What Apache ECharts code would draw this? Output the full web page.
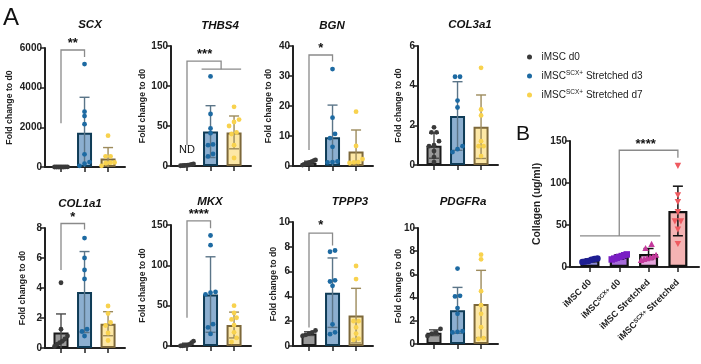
<!DOCTYPE html>
<html><head><meta charset="utf-8">
<script src="https://cdn.jsdelivr.net/npm/echarts@6/dist/echarts.min.js"></script>
<style>html,body{margin:0;padding:0;background:#fff}#c{width:701px;height:364px}</style>
</head><body><div id="c"></div>
<script>
// ---------- DATA ----------
const genes = ['SCX','THBS4','BGN','COL3a1','COL1a1','MKX','TPPP3','PDGFRa'];
const groups = ['iMSC d0','iMSC SCX+ Stretched d3','iMSC SCX+ Stretched d7'];
const yMax  = [6000,150,40,6,8,150,10,10];
const yStep = [2000,50,10,2,2,50,2,2];
const meanD0 = [1,1,1,0.97,1.04,1,1,0.97];
const meanD3 = [1725,43,9.6,2.47,3.73,63.8,4.3,2.9];
const meanD7 = [423,42,4.8,1.93,1.62,26,2.45,3.45];
const sdD0 = [1,1,0.6,0.63,1.23,2.5,0.15,0.25];
const sdD3 = [1790,32.4,10.7,1.73,2.7,46.8,2.8,1.98];
const sdD7 = [557,20.5,7.2,1.6,0.8,16,2.2,2.9];
const ptsD0 = [
  [1.6,1.3,1.1,1.0,0.9,0.7,0.5,0.4],
  [2.5,2.0,1.5,1.0,0.8,0.6,0.4,0.3],
  [2.0,1.8,1.5,1.3,1.1,0.9,0.7,0.5,0.3],
  [1.9,1.65,1.65,1.2,1.0,0.95,0.7,0.4,0.15],
  [4.35,1.25,0.8,0.6,0.45,0.35,0.25,0.1],
  [6,4,2,1.2,0.8,0.5,0.3,0.2],
  [1.25,1.1,1.0,0.9,0.8],
  [1.3,1.0,0.9,0.7]
];
const ptsD3 = [
  [5190,2790,2570,2160,640,250,170,60],
  [112,65,47,41,27,26,15,12],
  [32.3,16.1,10.7,9.3,6.4,1.5,1.3,1.2],
  [4.45,4.45,3.25,2.9,0.95,0.8,0.65],
  [7.33,6.0,5.2,4.6,1.25,1.1,0.8],
  [137,125,67,66,64,27,23,15],
  [7.7,7.6,5.3,5.2,4.85,1.75,1.1,0.95],
  [6.5,4.15,4.1,3.1,2.6,1.1,1.05,1.0]
];
const ptsD7 = [
  [1580,540,540,230,220,190,60],
  [74,58,55,50,42,40,26,10],
  [18.1,6.7,2.3,1.3,1.2,1.0],
  [4.9,2.8,2.5,1.2,0.95,0.95,0.45],
  [2.8,2.3,1.7,1.5,1.0,0.5],
  [50,41,35,33,26,17,10,5],
  [6.45,5.4,2.0,2.0,1.5,1.0,0.6,0.5],
  [7.7,7.3,4.55,3.35,2.6,1.45,0.5,0.45]
];
// significance annotations (data units)
const annotations = [
  {g:0, paths:[[[0,2200],[0,5900],[1,5900],[1,5550]]], text:'**', at:[0.5,6250]},
  {g:1, paths:[[[0,26],[0,131],[1.45,131],[1.45,121]],[[0.62,121],[2.3,121]]], text:'***', at:[0.75,139]},
  {g:1, paths:[], text:'ND', at:[0,20], plain:true},
  {g:2, paths:[[[0,5.3],[0,37],[1,37],[1,34.8]]], text:'*', at:[0.5,39.3]},
  {g:4, paths:[[[0,5.2],[0,8.3],[1,8.3],[1,7.9]]], text:'*', at:[0.5,8.7]},
  {g:5, paths:[[[0,35],[0,155],[1,155],[1,146]]], text:'****', at:[0.5,163]},
  {g:6, paths:[[[0,1.5],[0,9.1],[1,9.1],[1,8.1]]], text:'*', at:[0.5,9.75]},
  {g:8, paths:[[[-0.34,37],[2.4,37]],[[1,37],[1,139],[3,139],[3,130]]], text:'****', at:[1.9,146]}
];
// Panel B
const bNames = ['iMSC d0','iMSC SCX+ d0','iMSC Stretched','iMSC SCX+ Stretched'];
const bMean = [8,12,15.5,66.7];
const bSd = [1.5,2.5,6.5,29.5];
const bPts = [
  [10,9.5,8.5,7,6.5,6],
  [15,14,13,12,11,10,9],
  [27,22,14,12,11,10,9,8],
  [121,86,78,66,55,55,45,28]
];
const bYMax = 150, bYStep = 50;

// ---------- STYLE ----------
const FONT = "'Liberation Sans', Arial, Helvetica, sans-serif";
const AX = '#222';
const ptColA = ['#3a3a3a','#1d6aa2','#f8d24e'];
const fillA = ['#9a9a9a','#8cafd0','#fde8a6'];
const borderA = ['#1c1c1c','#0f3c57','#7d683a'];
const errColA = ['#4a4a4a','#5b7588','#9d8b5c'];
const fillB = ['#8a8ad6','#a56bd8','#e4a6dc','#f4b3b3'];
const ptColB = ['#1e1e92','#7a1ec4','#c4399c','#ef5a60'];
const shapesB = ['circle','square','triangle','invtriangle'];
const gridsA = [[45,48,119],[171,46,120],[293,46,120],[418,46,119],[45,228,120],[171,225,121],[293,222,124],[418,228,116]];
const nameGaps = [31,24,20,15,18,24,15,15];
const titlePos = [[85,21],[215,22],[327,22],[465,21],[75,200],[205,198],[345,198],[458,198]];

function jitter(vals, thr, maxSpan, step0){
  const idx = vals.map((v,i)=>i).sort((a,b)=>vals[a]-vals[b]);
  const off = new Array(vals.length).fill(0);
  let cl = [idx[0]];
  const flush = ()=>{const n=cl.length; const st = n>1?Math.min(step0, maxSpan/(n-1)):0; cl.forEach((k,j)=>off[k]=(j-(n-1)/2)*st);};
  for(let i=1;i<idx.length;i++){ if(vals[idx[i]]-vals[idx[i-1]]<thr) cl.push(idx[i]); else {flush(); cl=[idx[i]];} }
  flush();
  return off;
}
function errRender(cols, cw, lw){
  return function(params, api){
    const x=api.value(0), m=api.value(1), s=api.value(2), k=api.value(3);
    const top=api.coord([x,m+s]); const lo=Math.max(0,m-s); const bot=api.coord([x,lo]);
    const st={stroke:cols[k], lineWidth:lw};
    const ch=[{type:'line',shape:{x1:top[0],y1:top[1],x2:bot[0],y2:bot[1]},style:st},
              {type:'line',shape:{x1:top[0]-cw,y1:top[1],x2:top[0]+cw,y2:top[1]},style:st}];
    if(m-s>0) ch.push({type:'line',shape:{x1:bot[0]-cw,y1:bot[1],x2:bot[0]+cw,y2:bot[1]},style:st});
    return {type:'group',children:ch};
  };
}
function dotRender(shape, size){
  return function(params, api){
    const c=api.coord([api.value(0),api.value(1)]); const x=c[0]+api.value(2), y=c[1];
    const col=api.visual('color'); const h=size/2;
    if(shape==='circle') return {type:'circle',shape:{cx:x,cy:y,r:h},style:{fill:col}};
    if(shape==='square') return {type:'rect',shape:{x:x-h,y:y-h,width:size,height:size},style:{fill:col}};
    if(shape==='triangle') return {type:'polygon',shape:{points:[[x,y-h*1.1],[x+h,y+h*0.8],[x-h,y+h*0.8]]},style:{fill:col}};
    return {type:'polygon',shape:{points:[[x,y+h*1.1],[x+h,y-h*0.8],[x-h,y-h*0.8]]},style:{fill:col}};
  };
}
function annRender(params, api){
  const a=annotations[api.value(2)];
  const ch=a.paths.map(p=>({type:'polyline',shape:{points:p.map(q=>api.coord(q))},style:{stroke:'#8a8a8a',lineWidth:1.3,fill:null}}));
  const t=api.coord(a.at);
  ch.push({type:'text',x:t[0],y:t[1],style:{text:a.text,fontSize:a.plain?11:13,fontWeight:a.plain?'normal':'bold',fontFamily:FONT,fill:'#111',align:'center',verticalAlign:'middle'}});
  return {type:'group',children:ch};
}
function supRich(n){
  const i=n.indexOf(' SCX+');
  if(i<0) return '{b|'+n+'}';
  return '{b|'+n.slice(0,i)+'}{s|SCX+}{b|'+n.slice(i+5)+'}';
}

const grid=[],xAxis=[],yAxis=[],series=[],title=[];
genes.forEach((g,i)=>{
  const [L,T,H]=gridsA[i];
  grid.push({left:L,top:T,width:80,height:H,outerBoundsMode:'none',containLabel:false});
  xAxis.push({type:'value',gridIndex:i,min:-0.68,max:2.72,
    axisLine:{show:true,onZero:false,lineStyle:{color:AX,width:2}},
    axisTick:{show:true,customValues:[0,1,2],length:5,lineStyle:{color:AX,width:1.5}},
    axisLabel:{show:false},splitLine:{show:false}});
  yAxis.push({type:'value',gridIndex:i,min:0,max:yMax[i],interval:yStep[i],
    axisLine:{show:true,onZero:false,lineStyle:{color:AX,width:2}},
    axisTick:{show:true,length:5,lineStyle:{color:AX,width:1.5}},
    axisLabel:{fontSize:10,fontWeight:'bold',color:AX,fontFamily:FONT,margin:3,formatter:v=>String(v)},
    splitLine:{show:false},nameMoveOverlap:false,
    name:'Fold change to d0',nameLocation:'middle',nameGap:nameGaps[i],
    nameTextStyle:{fontSize:8.7,fontWeight:'bold',color:AX,fontFamily:FONT}});
  title.push({text:g,left:titlePos[i][0],top:titlePos[i][1]-7,textAlign:'center',
    textStyle:{fontSize:11.5,fontWeight:'bold',fontStyle:'italic',color:'#111',fontFamily:FONT}});
  const means=[meanD0[i],meanD3[i],meanD7[i]], sds=[sdD0[i],sdD3[i],sdD7[i]];
  series.push({type:'bar',xAxisIndex:i,yAxisIndex:i,barWidth:15,z:2,silent:true,
    data:means.map((m,k)=>({value:[k,m],itemStyle:{color:fillA[k],borderColor:borderA[k],borderWidth:2}}))});
  series.push({type:'custom',xAxisIndex:i,yAxisIndex:i,z:3,silent:true,renderItem:errRender(errColA,5,1.4),
    data:means.map((m,k)=>[k,m,sds[k],k])});
  [ptsD0,ptsD3,ptsD7].forEach((P,k)=>{
    const vals=P[i]; const off=jitter(vals,yMax[i]*0.035,13,5);
    series.push({type:'custom',name:groups[k],xAxisIndex:i,yAxisIndex:i,z:4,silent:true,
      itemStyle:{color:ptColA[k]},renderItem:dotRender('circle',4.8),
      data:vals.map((v,j)=>[k,v,off[j]])});
  });
});
// Panel B
grid.push({left:570,top:141,width:129,height:126,outerBoundsMode:'none',containLabel:false});
xAxis.push({type:'value',gridIndex:8,min:-0.68,max:3.72,
  axisLine:{show:true,onZero:false,lineStyle:{color:AX,width:2}},
  axisTick:{show:true,customValues:[0,1,2,3],length:5,lineStyle:{color:AX,width:1.5}},
  axisLabel:{show:true,customValues:[0,1,2,3],rotate:45,margin:14,align:'right',verticalAlign:'middle',
    formatter:v=>supRich(bNames[Math.round(v)]),
    rich:{b:{fontSize:9,fontWeight:'bold',color:AX,fontFamily:FONT},
          s:{fontSize:6,fontWeight:'bold',color:AX,fontFamily:FONT,verticalAlign:'top'}}},
  splitLine:{show:false}});
yAxis.push({type:'value',gridIndex:8,min:0,max:bYMax,interval:bYStep,
  axisLine:{show:true,onZero:false,lineStyle:{color:AX,width:2}},
  axisTick:{show:true,length:5,lineStyle:{color:AX,width:1.5}},
  axisLabel:{fontSize:10,fontWeight:'bold',color:AX,fontFamily:FONT,margin:3,formatter:v=>String(v)},
  splitLine:{show:false},nameMoveOverlap:false,
  name:'Collagen (ug/ml)',nameLocation:'middle',nameGap:27,
  nameTextStyle:{fontSize:10.5,fontWeight:'bold',color:AX,fontFamily:FONT}});
series.push({type:'bar',xAxisIndex:8,yAxisIndex:8,barWidth:19,z:2,silent:true,
  data:bMean.map((m,k)=>({value:[k,m],itemStyle:{color:fillB[k],borderColor:'#111',borderWidth:2.2}}))});
series.push({type:'custom',xAxisIndex:8,yAxisIndex:8,z:3,silent:true,renderItem:errRender(['#111','#111','#111','#111'],5,1.5),
  data:bMean.map((m,k)=>[k,m,bSd[k],k])});
bPts.forEach((vals,k)=>{
  const off=jitter(vals,bYMax*0.045,15,6);
  series.push({type:'custom',name:bNames[k],xAxisIndex:8,yAxisIndex:8,z:4,silent:true,
    itemStyle:{color:ptColB[k]},renderItem:dotRender(shapesB[k],6.5),
    data:vals.map((v,j)=>[k,v,off[j]])});
});
// annotations per grid
const annByGrid={};
annotations.forEach((a,i)=>{(annByGrid[a.g]=annByGrid[a.g]||[]).push([a.at[0],a.at[1],i]);});
Object.keys(annByGrid).forEach(g=>{
  series.push({type:'custom',xAxisIndex:+g,yAxisIndex:+g,z:5,silent:true,clip:false,renderItem:annRender,data:annByGrid[g]});
});

const option={
  animation:false,
  backgroundColor:'#fff',
  title,grid,xAxis,yAxis,series,
  legend:{data:groups.map(n=>({name:n,icon:'circle'})),orient:'vertical',left:522,top:47,
    itemWidth:14,itemHeight:5,itemGap:8,selectedMode:false,
    formatter:n=>supRich(n),
    textStyle:{color:AX,fontFamily:FONT,
      rich:{b:{fontSize:10,color:AX,fontFamily:FONT,lineHeight:12},
            s:{fontSize:6.5,color:AX,fontFamily:FONT,verticalAlign:'top',lineHeight:7}}}},
  graphic:[
    {type:'text',left:3,top:6,style:{text:'A',fontSize:24,fontFamily:FONT,fill:'#111'}},
    {type:'text',left:516,top:124,style:{text:'B',fontSize:21,fontFamily:FONT,fill:'#111'}}
  ]
};
const chart=echarts.init(document.getElementById('c'),null,{renderer:'canvas'});
chart.setOption(option);
</script></body></html>
